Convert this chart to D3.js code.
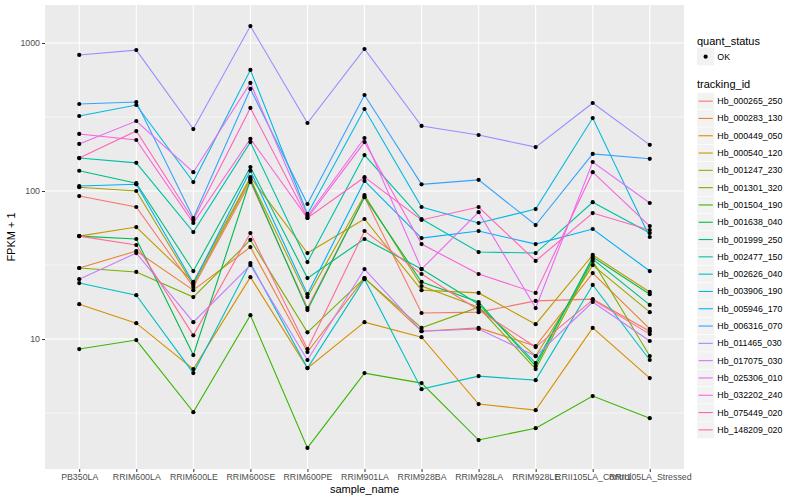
<!DOCTYPE html>
<html>
<head>
<meta charset="utf-8">
<script src="https://cdn.jsdelivr.net/npm/d3@7"></script>
<style>
  body { margin: 0; background: #fff; }
  text { font-family: "Liberation Sans", Arial, Helvetica, sans-serif; }
</style>
</head>
<body>
<div id="chart"></div>
<script>
// sample names along the x axis
const samples = ["PB350LA", "RRIM600LA", "RRIM600LE", "RRIM600SE", "RRIM600PE", "RRIM901LA",
  "RRIM928BA", "RRIM928LA", "RRIM928LE", "RRII105LA_Control", "RRII105LA_Stressed"]

// tracking ids (legend order)
const trackingIds = ["Hb_000265_250", "Hb_000283_130", "Hb_000449_050", "Hb_000540_120",
  "Hb_001247_230", "Hb_001301_320", "Hb_001504_190", "Hb_001638_040", "Hb_001999_250",
  "Hb_002477_150", "Hb_002626_040", "Hb_003906_190", "Hb_005946_170", "Hb_006316_070",
  "Hb_011465_030", "Hb_017075_030", "Hb_025306_010", "Hb_032202_240", "Hb_075449_020",
  "Hb_148209_020"]

// FPKM + 1 per tracking id, one value per sample (same order as samples)
const fpkm = [
  [92.5, 78, 22.5, 115, 16.2, 91, 15, 15.2, 18.1, 18.6, 11.3],
  [30.2, 39.3, 21.4, 41.8, 8.17, 25.8, 11.3, 11.9, 8.97, 27.9, 11.7],
  [17.2, 12.8, 6.27, 26.2, 6.37, 13, 10.3, 3.64, 3.31, 11.9, 5.45],
  [49.6, 57.1, 24.3, 124, 38.1, 64.7, 21.4, 20.5, 12.6, 37, 20.8],
  [106, 100, 23.2, 120.5, 19.2, 94, 22.8, 16.4, 7.68, 31.6, 15.2],
  [30.2, 28.4, 19.2, 46.7, 11.1, 25.8, 11.9, 16.4, 6.27, 33.7, 7.68],
  [8.56, 9.85, 3.21, 14.5, 1.84, 5.89, 5.04, 2.08, 2.5, 4.12, 2.92],
  [49.6, 47.4, 7.8, 119, 15.7, 91, 24.3, 17.8, 6.57, 35.8, 20.1],
  [137, 113, 28.8, 145, 25.8, 47.4, 29.7, 17.2, 6.89, 34.7, 17],
  [167, 155, 52.8, 214, 33.1, 175, 64.7, 38.7, 38.1, 84, 52],
  [23.9, 19.8, 5.89, 32.6, 6.37, 25.4, 4.59, 5.62, 5.28, 23.2, 7.22],
  [321, 381, 115, 657, 70, 358, 78, 60.8, 75.5, 311, 48.9],
  [108, 111, 23.9, 137, 20.1, 117, 48.1, 53.7, 43.8, 55.4, 28.8],
  [387, 399, 65.7, 489, 81.7, 445, 111, 119, 58.9, 178, 165],
  [830, 895, 262, 1300, 288, 910, 275, 239, 198, 393, 205],
  [25.4, 38.1, 13, 31.6, 7.22, 29.7, 11.3, 11.7, 7.68, 17.8, 9.7],
  [208, 297, 134, 537, 67.8, 228, 29.7, 72, 16.2, 157, 83],
  [243, 221, 60.8, 225, 65.7, 214, 43.8, 27.5, 20.5, 134, 58],
  [167, 254, 63.7, 364, 65.7, 124, 63.7, 78, 33.7, 71, 54.5],
  [49.6, 43.2, 10.6, 52, 8.56, 53.7, 27.5, 15.7, 8.83, 18.4, 10.8]
]

const yTicks = [10, 100, 1000]
const yMinor = [Math.pow(10, 0.5), Math.pow(10, 1.5), Math.pow(10, 2.5)]

// ggplot default hue palette for 20 groups
const palette = ["#F8766D", "#EA8331", "#D89000", "#C09B00", "#A3A500", "#7CAE00", "#39B600",
  "#00BB4E", "#00BF7D", "#00C1A3", "#00BFC4", "#00BAE0", "#00B0F6", "#35A2FF", "#9590FF",
  "#C77CFF", "#E76BF3", "#FA62DB", "#FF62BC", "#FF6C91"]

const width = 800, height = 500
const panel = { left: 45, right: 684, top: 5, bottom: 469 }

const svg = d3.select("#chart").append("svg")
  .attr("width", width).attr("height", height)

// panel background
svg.append("rect")
  .attr("x", panel.left).attr("y", panel.top)
  .attr("width", panel.right - panel.left).attr("height", panel.bottom - panel.top)
  .attr("fill", "#EBEBEB")

const x = d3.scalePoint().domain(samples).range([panel.left, panel.right]).padding(0.6)

// log scale with 5% expansion like ggplot
const allVals = fpkm.flat()
const lo = Math.log10(d3.min(allVals)), hi = Math.log10(d3.max(allVals))
const pad = (hi - lo) * 0.05
const y = d3.scaleLog()
  .domain([Math.pow(10, lo - pad), Math.pow(10, hi + pad)])
  .range([panel.bottom, panel.top])

const color = d3.scaleOrdinal().domain(trackingIds).range(palette)

// grid lines
const grid = svg.append("g")
grid.selectAll(".minor").data(yMinor).enter().append("line")
  .attr("x1", panel.left).attr("x2", panel.right)
  .attr("y1", d => y(d)).attr("y2", d => y(d))
  .attr("stroke", "#fff").attr("stroke-width", 0.55)
grid.selectAll(".majory").data(yTicks).enter().append("line")
  .attr("x1", panel.left).attr("x2", panel.right)
  .attr("y1", d => y(d)).attr("y2", d => y(d))
  .attr("stroke", "#fff").attr("stroke-width", 1.1)
grid.selectAll(".majorx").data(samples).enter().append("line")
  .attr("x1", d => x(d)).attr("x2", d => x(d))
  .attr("y1", panel.top).attr("y2", panel.bottom)
  .attr("stroke", "#fff").attr("stroke-width", 1.1)

// series lines
const series = trackingIds.map((id, i) => ({
  id: id,
  values: samples.map((s, j) => ({ sample: s, value: fpkm[i][j] }))
}))

const line = d3.line().x(d => x(d.sample)).y(d => y(d.value))

svg.append("g").selectAll("path").data(series).enter().append("path")
  .attr("d", d => line(d.values))
  .attr("fill", "none")
  .attr("stroke", d => color(d.id))
  .attr("stroke-width", 1.1)

// points
svg.append("g").selectAll("g").data(series).enter().append("g")
  .selectAll("circle").data(d => d.values).enter().append("circle")
  .attr("cx", d => x(d.sample))
  .attr("cy", d => y(d.value))
  .attr("r", 2.1)
  .attr("fill", "#000")

// axes
const xAxis = svg.append("g")
  .attr("transform", "translate(0," + panel.bottom + ")")
  .call(d3.axisBottom(x).tickSize(3).tickPadding(2))
const yAxis = svg.append("g")
  .attr("transform", "translate(" + panel.left + ",0)")
  .call(d3.axisLeft(y).tickValues(yTicks).tickFormat(d3.format("d")).tickSize(3).tickPadding(2))

;[xAxis, yAxis].forEach(a => {
  a.select(".domain").remove()
  a.selectAll(".tick line").attr("stroke", "#333333").attr("stroke-width", 1)
  a.selectAll(".tick text").attr("fill", "#4D4D4D").style("font-size", "8.8px")
    .style("font-family", '"Liberation Sans", Arial, sans-serif')
})

// axis titles
svg.append("text")
  .attr("x", (panel.left + panel.right) / 2).attr("y", 493)
  .attr("text-anchor", "middle").style("font-size", "11px").text("sample_name")
svg.append("text")
  .attr("transform", "translate(15," + (panel.top + panel.bottom) / 2 + ") rotate(-90)")
  .attr("text-anchor", "middle").style("font-size", "11px").text("FPKM + 1")

// legend
const legX = 697, keySize = 17.3
const leg = svg.append("g")
leg.append("text").attr("x", legX).attr("y", 45).style("font-size", "11px").text("quant_status")
leg.append("rect").attr("x", legX).attr("y", 48).attr("width", keySize).attr("height", keySize)
  .attr("fill", "#F2F2F2")
leg.append("circle").attr("cx", legX + keySize / 2).attr("cy", 48 + keySize / 2).attr("r", 2.1)
  .attr("fill", "#000")
leg.append("text").attr("x", legX + keySize + 3).attr("y", 48 + keySize / 2 + 3)
  .style("font-size", "8.8px").text("OK")

leg.append("text").attr("x", legX).attr("y", 88).style("font-size", "11px").text("tracking_id")
const keys = leg.selectAll(".key").data(trackingIds).enter().append("g")
  .attr("transform", (d, i) => "translate(" + legX + "," + (92.5 + i * keySize) + ")")
keys.append("rect").attr("width", keySize).attr("height", keySize).attr("fill", "#F2F2F2")
  .attr("stroke", "#fff").attr("stroke-width", 0.5)
keys.append("line").attr("x1", 1.5).attr("x2", keySize - 1.5)
  .attr("y1", keySize / 2).attr("y2", keySize / 2)
  .attr("stroke", d => color(d)).attr("stroke-width", 1.1)
keys.append("text").attr("x", keySize + 3).attr("y", keySize / 2 + 3)
  .style("font-size", "8.8px").text(d => d)
</script>
</body>
</html>
